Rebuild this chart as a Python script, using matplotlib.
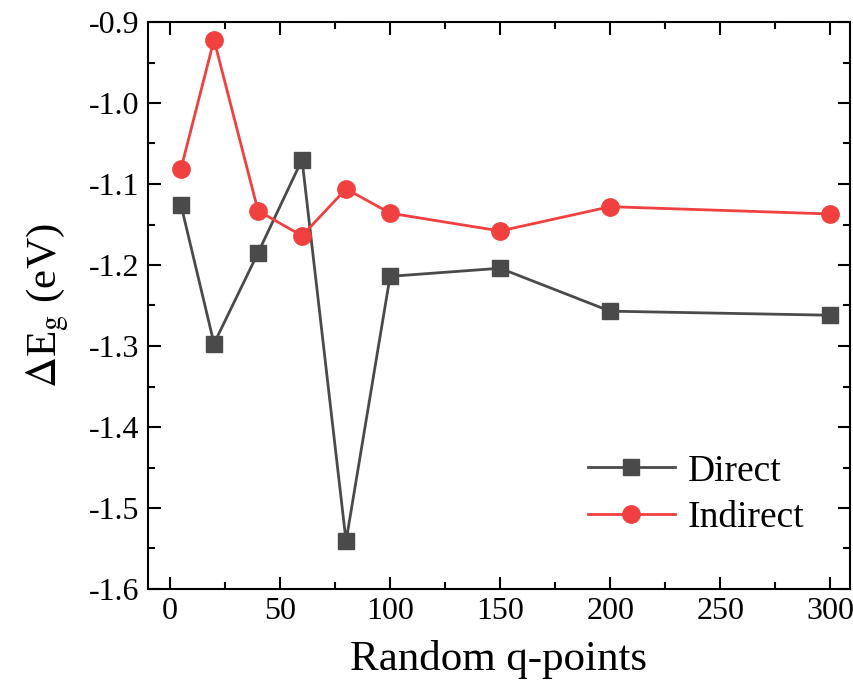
import matplotlib
matplotlib.use('Agg')
import matplotlib.pyplot as plt
from matplotlib.ticker import MultipleLocator

plt.rcParams['font.family'] = ['Liberation Serif', 'DejaVu Serif']
plt.rcParams['mathtext.fontset'] = 'stix'

q_points = [5, 20, 40, 60, 80, 100, 150, 200, 300]
direct = [-1.126, -1.297, -1.185, -1.070, -1.541, -1.214, -1.204, -1.257, -1.262]
indirect = [-1.081, -0.922, -1.133, -1.164, -1.106, -1.136, -1.158, -1.128, -1.137]

fig = plt.figure(figsize=(8.54, 6.97), dpi=100)
ax = fig.add_axes([148 / 854, 1 - 589 / 697, 702 / 854, 567 / 697])

ax.plot(q_points, direct, color='#4a4a4a', marker='s', markersize=11, lw=2, label='Direct')
ax.plot(q_points, indirect, color='#f04040', marker='o', markersize=12.5, lw=2, label='Indirect')

ax.set_xlim(-10, 309)
ax.set_ylim(-1.6, -0.9)
ax.xaxis.set_major_locator(MultipleLocator(50))
ax.xaxis.set_minor_locator(MultipleLocator(25))
ax.yaxis.set_major_locator(MultipleLocator(0.1))
ax.yaxis.set_minor_locator(MultipleLocator(0.05))
ax.yaxis.set_major_formatter(plt.FuncFormatter(lambda v, p: f'{v:.1f}'))

ax.tick_params(which='both', direction='in', top=True, right=True, width=1.5, labelsize=23)
ax.tick_params(which='major', length=9, pad=6)
ax.tick_params(which='minor', length=5)
for s in ax.spines.values():
    s.set_linewidth(1.5)

ax.set_xlabel('Random q-points', fontsize=31, labelpad=10)
ax.set_ylabel(r'$\Delta$E$_{\mathrm{g}}$ (eV)', fontsize=31, labelpad=12)

ax.legend(loc='lower right', fontsize=27, frameon=False, handlelength=2.3,
          handletextpad=0.35, bbox_to_anchor=(0.983, 0.035), labelspacing=0.33)

plt.savefig('out.png', dpi=100)
plt.close()
